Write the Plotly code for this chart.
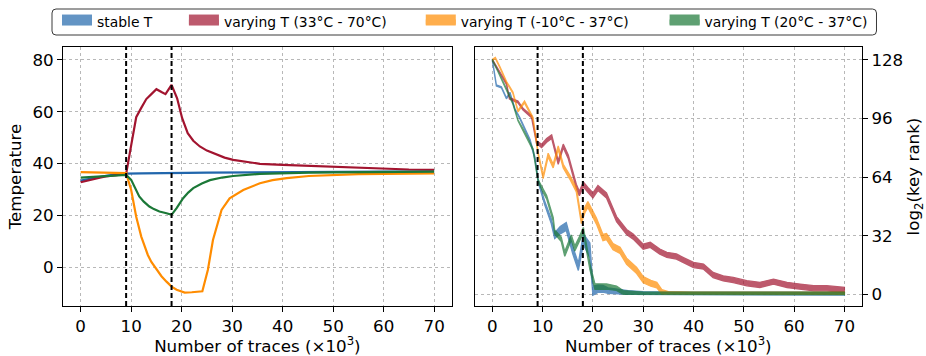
import plotly.graph_objects as go

# ---------------- data ----------------
series_names = ["stable T", "varying T (33°C - 70°C)", "varying T (-10°C - 37°C)", "varying T (20°C - 37°C)"]
line_colors = ["#2166ac", "#a2142f", "#ff8c00", "#1b7837"]
patch_colors = ["#6394c4", "#bd5a6d", "#ffae4c", "#5fa072"]
phase_marks = [9, 18]

# Left panel: temperature vs number of traces (x1000)
temp_stable_x = [0, 1, 2, 3, 4, 5, 6, 7, 8, 9, 12, 15, 18, 21, 25, 30, 35, 40, 45, 50, 55, 60, 65, 70]
temp_stable_y = [33.4, 33.8, 34.3, 34.7, 35.0, 35.3, 35.5, 35.7, 35.9, 36.1, 36.2, 36.2, 36.3, 36.4, 36.5, 36.6, 36.6, 36.7, 36.7, 36.8, 36.8, 36.9, 36.9, 37.0]

temp_hot_x = [0, 1, 2, 3, 4, 5, 6, 7, 8, 9, 10, 11, 12, 13, 14, 15, 16, 16.8, 18, 19.1, 20.1, 21.2, 22.3, 23.6, 25, 26.9, 28.5, 30.2, 33, 35.5, 40, 45.2, 50, 55, 60, 65, 70]
temp_hot_y = [32.8, 33.3, 33.8, 34.2, 34.6, 35.0, 35.3, 35.6, 35.8, 36.0, 47.0, 57.9, 61.5, 64.9, 66.8, 68.7, 67.6, 66.8, 70.4, 65.2, 57.5, 51.7, 48.8, 46.6, 45.0, 43.4, 42.3, 41.4, 40.5, 39.9, 39.5, 39.1, 38.6, 38.2, 37.9, 37.7, 37.6]

temp_cold_x = [0, 3, 6, 9, 10, 11, 12, 13.3, 14, 15, 16, 17, 18, 19, 20.6, 22, 23, 24.1, 25.2, 26.2, 27.9, 29.5, 32.2, 35.5, 38, 40.8, 45.2, 50, 55, 60, 65, 70]
temp_cold_y = [36.7, 36.6, 36.5, 36.3, 29.8, 19.5, 11.8, 4.7, 2.0, -1.0, -3.5, -5.6, -7.5, -8.7, -9.8, -9.7, -9.5, -9.3, -1.0, 10.5, 22.1, 26.6, 29.8, 32.4, 33.6, 34.4, 35.2, 35.6, 35.9, 36.0, 36.1, 36.2]

temp_mild_x = [0, 3, 6, 9, 10, 11, 11.6, 12.5, 13.6, 14.5, 15.6, 17, 18, 19, 20.3, 21.3, 22.3, 24, 25.6, 28, 30.2, 35.5, 40, 45.2, 50, 55, 60, 65, 70]
temp_mild_y = [34.6, 35.0, 35.3, 35.6, 33.7, 29.5, 27.3, 25.3, 23.4, 22.4, 21.5, 20.8, 20.2, 22.8, 26.6, 28.8, 30.5, 32.3, 33.6, 34.6, 35.2, 36.0, 36.3, 36.5, 36.6, 36.7, 36.8, 36.9, 36.9]

# Right panel: log2(key rank) centre and half spread
rank_stable_x = [0, 0.8, 1.8, 2.8, 3.5, 4.5, 5.5, 6.5, 7.5, 8.5, 9.1, 10.4, 11.7, 12.4, 13.5, 14.7, 16, 17.1, 18.1, 19.4, 20, 21, 22, 23, 25, 27, 30, 35, 40, 50, 60, 70]
rank_stable_y = [128, 114, 113, 107, 110, 101, 96, 90, 84, 74, 62, 50, 40, 32, 35, 37, 24, 15, 30, 24, 2, 3, 3, 2, 1.5, 1, 0.6, 0.4, 0.4, 0.4, 0.4, 0.4]
rank_stable_s = [0.3, 0.3, 0.3, 0.3, 0.3, 0.3, 0.3, 0.4, 0.5, 0.6, 0.8, 1.0, 1.3, 1.6, 2.0, 2.2, 2.0, 2.0, 3.0, 4.0, 2.5, 2.0, 1.8, 1.5, 1.2, 1.0, 0.8, 0.8, 0.8, 0.8, 0.8, 0.8]

rank_hot_x = [0, 1.5, 2.8, 3.4, 5.1, 6.1, 7.8, 8.8, 9.8, 10.8, 11.8, 13.1, 14.1, 15.1, 16.7, 17.3, 18.1, 19.0, 20.0, 21.0, 22.7, 24.7, 26.7, 28, 30, 31.4, 33.3, 34.7, 36.6, 38, 40, 42, 43.9, 45.9, 47.9, 50.6, 53.2, 55.9, 58.6, 61.2, 63.9, 66.5, 70]
rank_hot_y = [128, 121, 115, 107, 105, 101, 97, 83, 81, 84, 86, 72, 81, 75, 59, 55, 60, 57, 54, 58, 54, 41, 34, 31.5, 26, 27, 23.3, 21.5, 20.6, 18.7, 16, 15.1, 10.5, 8.7, 7.8, 6, 5.1, 6.9, 5.1, 4.2, 3.3, 3.3, 2.4]
rank_hot_s = [0.3, 0.3, 0.4, 0.4, 0.5, 0.5, 0.6, 0.8, 0.9, 1.0, 1.0, 1.0, 1.0, 1.0, 1.1, 1.2, 1.3, 1.3, 1.4, 1.4, 1.4, 1.4, 1.4, 1.4, 1.4, 1.4, 1.4, 1.4, 1.4, 1.4, 1.4, 1.4, 1.4, 1.4, 1.4, 1.4, 1.4, 1.4, 1.4, 1.4, 1.4, 1.4, 1.4]

rank_cold_x = [0, 0.6, 1.5, 2.8, 4.1, 5.1, 6.4, 8.1, 9.1, 10.1, 11.1, 12.1, 13.1, 14.1, 15.4, 16.7, 17.7, 18.4, 19.0, 20.7, 22, 22.7, 24, 25.4, 26.7, 28.7, 30, 31.5, 32.7, 33.7, 35, 40, 50, 60, 70]
rank_cold_y = [128, 129, 124, 116, 110, 100, 105, 96, 77, 64, 76, 70, 80, 70, 64, 57, 40, 46, 49, 40, 31, 31.5, 26, 24, 18, 13, 8, 6, 5, 1.4, 0.6, 0.5, 0.5, 0.5, 0.5]
rank_cold_s = [0.3, 0.3, 0.3, 0.3, 0.4, 0.4, 0.5, 0.6, 0.8, 0.9, 1.0, 1.0, 1.0, 1.0, 1.1, 1.2, 1.4, 1.5, 1.6, 1.7, 1.7, 1.7, 1.7, 1.7, 1.7, 1.7, 1.7, 1.6, 1.5, 1.2, 0.8, 0.6, 0.6, 0.6, 0.6]

rank_mild_x = [0, 1.1, 2, 2.8, 4.1, 5.1, 6.1, 7, 8.1, 9.1, 10, 10.8, 12.1, 12.4, 13.7, 14.4, 15.7, 16.4, 17.3, 18.1, 19.4, 20.4, 22.7, 24.7, 26, 28, 30, 40, 50, 60, 70]
rank_mild_y = [128, 122, 117, 112, 104, 95, 90, 85, 79, 62, 57, 53, 41, 34, 30, 22, 31, 25, 30, 35, 15, 4.2, 4.2, 3.3, 1, 0.6, 0.5, 0.5, 0.5, 0.5, 0.5]
rank_mild_s = [0.3, 0.3, 0.3, 0.3, 0.3, 0.3, 0.4, 0.4, 0.5, 0.6, 0.8, 0.9, 1.0, 1.1, 1.2, 1.3, 1.4, 1.4, 1.4, 1.5, 1.6, 1.5, 1.4, 1.2, 1.0, 0.8, 0.7, 0.7, 0.7, 0.7, 0.7]

x_ticks = [0, 10, 20, 30, 40, 50, 60, 70]
temp_ticks = [0, 20, 40, 60, 80]
rank_ticks = [0, 32, 64, 96, 128]

# ---------------- figure ----------------
FONT = "DejaVu Sans"
W, H = 926, 356
ML, MR, MT, MB = 63, 63.5, 47, 50
PW, PH = W - ML - MR, H - MT - MB


def px_to_paper_x(px):
    return (px - ML) / PW


def px_to_paper_y(py):
    return 1 + (MT - py) / PH


fig = go.Figure()

temp_sets = [(temp_stable_x, temp_stable_y), (temp_hot_x, temp_hot_y),
             (temp_cold_x, temp_cold_y), (temp_mild_x, temp_mild_y)]
for (xs, ys), col in zip(temp_sets, line_colors):
    fig.add_trace(go.Scatter(x=xs, y=ys, mode="lines", line=dict(color=col, width=2.2),
                             xaxis="x", yaxis="y", showlegend=False, hoverinfo="skip"))

rank_sets = [(rank_stable_x, rank_stable_y, rank_stable_s), (rank_hot_x, rank_hot_y, rank_hot_s),
             (rank_cold_x, rank_cold_y, rank_cold_s), (rank_mild_x, rank_mild_y, rank_mild_s)]
for (xs, ys, ss), col in zip(rank_sets, line_colors):
    upper = [y + s for y, s in zip(ys, ss)]
    lower = [y - s for y, s in zip(ys, ss)]
    fig.add_trace(go.Scatter(x=xs + xs[::-1], y=upper + lower[::-1], mode="lines",
                             fill="toself", fillcolor=col, line=dict(color=col, width=1.3),
                             opacity=0.7, xaxis="x2", yaxis="y2", showlegend=False, hoverinfo="skip"))

# legend-only entries, one legend each so they can be spaced like the reference
legend_ids = ["legend", "legend2", "legend3", "legend4"]
legend_text_px = [97, 224, 461, 705]
for name, col, lid in zip(series_names, patch_colors, legend_ids):
    fig.add_trace(go.Scatter(x=[None], y=[None], mode="lines", name=name, fill="toself",
                             fillcolor=col, line=dict(color=col, width=10),
                             xaxis="x2", yaxis="y2", showlegend=True, legend=lid))

legend_layout = {}
for lid, tpx in zip(legend_ids, legend_text_px):
    legend_layout[lid] = dict(orientation="h", x=px_to_paper_x(tpx - 40), xanchor="left",
                              y=px_to_paper_y(22), yanchor="middle",
                              bgcolor="rgba(0,0,0,0)", borderwidth=0,
                              font=dict(family=FONT, size=13.9, color="black"), itemwidth=30)

# legend frame with rounded corners
fx0, fx1 = px_to_paper_x(52), px_to_paper_x(877)
fy0, fy1 = px_to_paper_y(35), px_to_paper_y(9)
rx, ry = 4 / PW, 4 / PH
frame_path = (f"M{fx0 + rx},{fy0} L{fx1 - rx},{fy0} Q{fx1},{fy0} {fx1},{fy0 + ry} "
              f"L{fx1},{fy1 - ry} Q{fx1},{fy1} {fx1 - rx},{fy1} "
              f"L{fx0 + rx},{fy1} Q{fx0},{fy1} {fx0},{fy1 - ry} "
              f"L{fx0},{fy0 + ry} Q{fx0},{fy0} {fx0 + rx},{fy0} Z")
fig.add_shape(type="path", xref="paper", yref="paper", path=frame_path,
              line=dict(color="#3a3a3a", width=1), fillcolor="rgba(0,0,0,0)", layer="below")

# phase boundary lines
for xref in ["x", "x2"]:
    for m in phase_marks:
        fig.add_shape(type="line", xref=xref, yref=("y domain" if xref == "x" else "y2 domain"),
                      x0=m, x1=m, y0=0, y1=1, line=dict(color="black", width=2, dash="5px,3px"))

axis_common = dict(showline=True, linecolor="black", linewidth=1.1, mirror=True,
                   ticks="outside", ticklen=5, tickwidth=1.1, tickcolor="black",
                   showgrid=True, gridcolor="#b8b8b8", gridwidth=1, griddash="dot",
                   zeroline=False, automargin=False,
                   tickfont=dict(family=FONT, size=16.7, color="black"))

title_font = dict(family=FONT, size=16.7, color="black")
xtitle = "Number of traces (×10<sup>3</sup>)"

fig.update_layout(
    width=W, height=H,
    margin=dict(l=ML, r=MR, t=MT, b=MB, autoexpand=False),
    paper_bgcolor="white", plot_bgcolor="white",
    font=dict(family=FONT, color="black"),
    xaxis=dict(domain=[0, 0.4866], range=[-3.5, 73.5], tickvals=x_ticks, anchor="y",
               title=dict(text=xtitle, font=title_font, standoff=8), **axis_common),
    yaxis=dict(domain=[0, 1], range=[-15, 85], tickvals=temp_ticks, anchor="x",
               title=dict(text="Temperature", font=title_font, standoff=6), **axis_common),
    xaxis2=dict(domain=[0.5153, 1], range=[-3.5, 73.5], tickvals=x_ticks, anchor="y2",
                title=dict(text=xtitle, font=title_font, standoff=8), **axis_common),
    yaxis2=dict(domain=[0, 1], range=[-6.4, 135], tickvals=rank_ticks, anchor="x2", side="right",
                title=dict(text="log<sub>2</sub>(key rank)", font=title_font, standoff=18), **axis_common),
    showlegend=True,
    **legend_layout,
)

fig.write_html("out.html")
